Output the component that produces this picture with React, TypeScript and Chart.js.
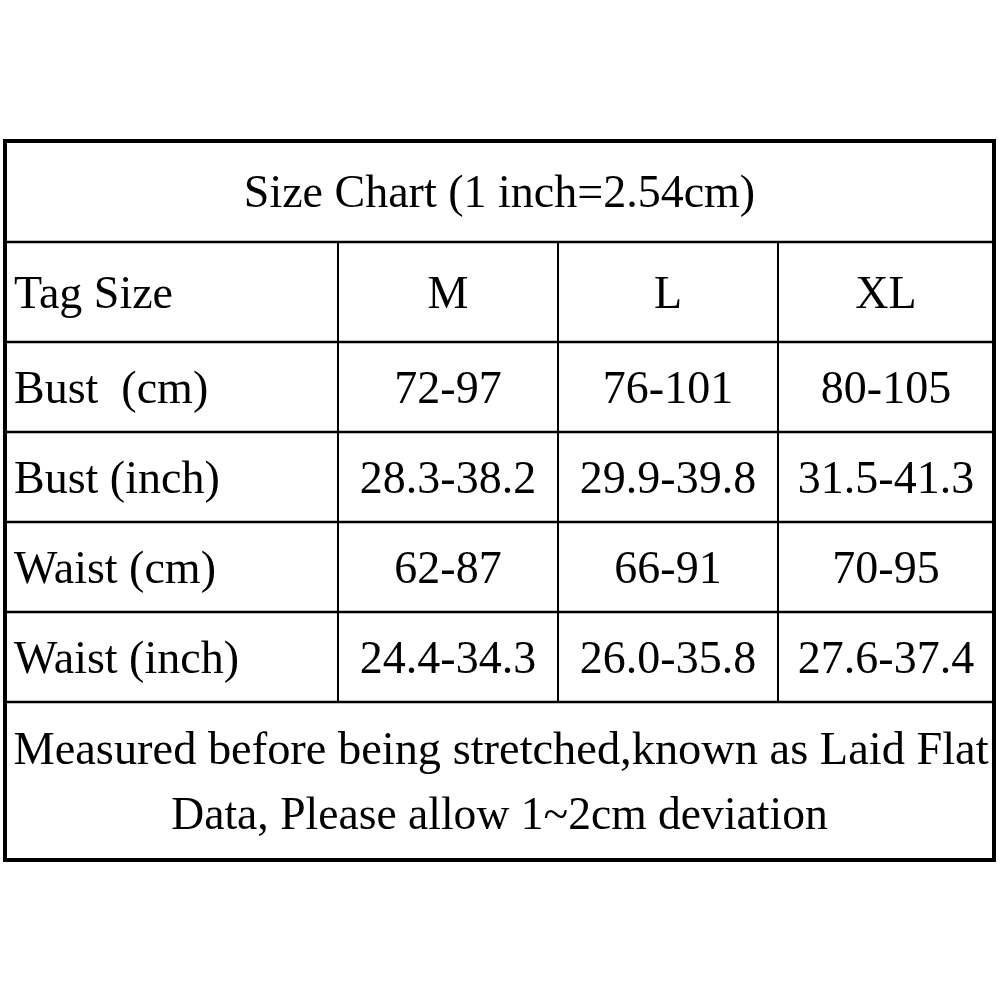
import React, { useEffect, useRef } from "react";
import { Chart, registerables } from "chart.js";

Chart.register(...registerables);

// ---- data ----
const title = "Size Chart (1 inch=2.54cm)";
const headerLabel = "Tag Size";
const sizes = ["M", "L", "XL"];
const rowLabels = ["Bust  (cm)", "Bust (inch)", "Waist (cm)", "Waist (inch)"];
const bustCm = ["72-97", "76-101", "80-105"];
const bustInch = ["28.3-38.2", "29.9-39.8", "31.5-41.3"];
const waistCm = ["62-87", "66-91", "70-95"];
const waistInch = ["24.4-34.3", "26.0-35.8", "27.6-37.4"];
const footnote = [
  "Measured before being stretched,known as Laid Flat",
  "Data, Please allow 1~2cm deviation",
];

// ---- layout (scale units) ----
const COL_EDGES = [5, 338, 558, 778, 994];
const ROW_EDGES = [141, 242, 342, 432, 522, 612, 702, 860];
const FAMILY = "'Liberation Serif', 'Times New Roman', serif";
const FONT = "46px " + FAMILY;
const FOOT_FONTS = ["46.4px " + FAMILY, "45.6px " + FAMILY];

const tablePlugin = {
  id: "sizeTable",
  afterDraw(chart: any) {
    const ctx = chart.ctx as CanvasRenderingContext2D;
    const xs = chart.scales.x;
    const ys = chart.scales.y;
    const X = (v: number) => xs.getPixelForValue(v);
    const Y = (v: number) => ys.getPixelForValue(v);
    const left = X(COL_EDGES[0]);
    const right = X(COL_EDGES[COL_EDGES.length - 1]);
    const top = Y(ROW_EDGES[0]);
    const bottom = Y(ROW_EDGES[ROW_EDGES.length - 1]);

    ctx.save();
    ctx.strokeStyle = "#000";
    // inner horizontal lines
    ctx.lineWidth = 2.5;
    for (let i = 1; i < ROW_EDGES.length - 1; i++) {
      ctx.beginPath();
      ctx.moveTo(left, Y(ROW_EDGES[i]));
      ctx.lineTo(right, Y(ROW_EDGES[i]));
      ctx.stroke();
    }
    // inner vertical lines (only for body rows)
    ctx.lineWidth = 2;
    for (let j = 1; j < COL_EDGES.length - 1; j++) {
      ctx.beginPath();
      ctx.moveTo(X(COL_EDGES[j]), Y(ROW_EDGES[1]));
      ctx.lineTo(X(COL_EDGES[j]), Y(ROW_EDGES[ROW_EDGES.length - 2]));
      ctx.stroke();
    }
    // outer border
    ctx.lineWidth = 4;
    ctx.strokeRect(left, top, right - left, bottom - top);

    // text
    ctx.fillStyle = "#000";
    ctx.font = FONT;
    ctx.textBaseline = "alphabetic";
    const off = 15.5;
    const rowMid = (i: number) => (Y(ROW_EDGES[i]) + Y(ROW_EDGES[i + 1])) / 2;
    const colMid = (j: number) => (X(COL_EDGES[j]) + X(COL_EDGES[j + 1])) / 2;

    ctx.textAlign = "center";
    ctx.fillText(title, (left + right) / 2, rowMid(0) + off);

    const body = [sizes, bustCm, bustInch, waistCm, waistInch];
    const labels = [headerLabel, ...rowLabels];
    body.forEach((row, r) => {
      const yy = rowMid(r + 1) + off;
      ctx.textAlign = "left";
      ctx.fillText(labels[r], left + 9, yy);
      ctx.textAlign = "center";
      row.forEach((cell, c) => ctx.fillText(cell, colMid(c + 1), yy));
    });

    const fm = rowMid(ROW_EDGES.length - 2);
    ctx.textAlign = "center";
    ctx.font = FOOT_FONTS[0];
    ctx.fillText(footnote[0], (left + right) / 2 + 1.5, fm - 32.5 + off);
    ctx.font = FOOT_FONTS[1];
    ctx.fillText(footnote[1], (left + right) / 2, fm + 32.5 + off);
    ctx.restore();
  },
};

export default function App() {
  const ref = useRef<HTMLCanvasElement | null>(null);
  useEffect(() => {
    if (!ref.current) return;
    const chart = new Chart(ref.current, {
      type: "scatter",
      data: { datasets: [] },
      options: {
        animation: false,
        responsive: false,
        devicePixelRatio: 1,
        layout: { padding: 0 },
        plugins: { legend: { display: false }, tooltip: { enabled: false } },
        scales: {
          x: { type: "linear", min: 0, max: 1001, display: false },
          y: { type: "linear", min: 0, max: 1001, reverse: true, display: false },
        },
      },
      plugins: [tablePlugin],
    });
    return () => chart.destroy();
  }, []);
  return (
    <div style={{ position: "absolute", left: 0, top: 0, width: 1001, height: 1001, background: "#fff" }}>
      <canvas ref={ref} width={1001} height={1001} style={{ display: "block" }} />
    </div>
  );
}
